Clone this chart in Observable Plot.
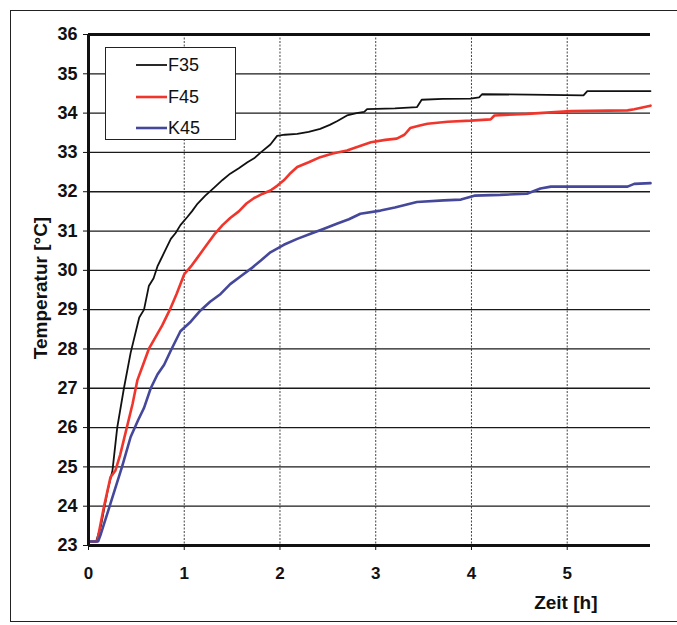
<!DOCTYPE html>
<html>
<head>
<meta charset="utf-8">
<script src="https://cdn.jsdelivr.net/npm/d3@7"></script>
<script src="https://cdn.jsdelivr.net/npm/@observablehq/plot@0.6"></script>
<style>
  html, body { margin: 0; padding: 0; background: #fff; }
  #wrap { position: relative; width: 677px; height: 625px; overflow: hidden; font-family: "Liberation Sans", Arial, sans-serif; }
  #frame { position: absolute; left: 10px; top: 10px; width: 700px; height: 612px; border-left: 1.5px solid #222; border-top: 1.5px solid #222; border-bottom: 1.5px solid #222; box-sizing: border-box; }
  #chart { position: absolute; left: 0; top: 0; }
  #legend { position: absolute; left: 105px; top: 47px; width: 131px; height: 93px; border: 1.5px solid #222; background: #fff; box-sizing: border-box; }
</style>
</head>
<body>
<div id="wrap">
  <div id="frame"></div>
  <div id="chart"></div>
  <div id="legend"></div>
</div>
<script>
// ---- data ----
const seriesNames = ["F35", "F45", "K45"];
const seriesColors = ["#111111", "#f0362c", "#45489a"];
const seriesWidths = [1.8, 2.6, 2.6];

const f35Time = [0, 0.08, 0.13, 0.2, 0.25, 0.30, 0.37, 0.44, 0.50, 0.53, 0.58, 0.63, 0.68, 0.72, 0.75, 0.80, 0.86, 0.91, 0.96, 1.03, 1.08, 1.14, 1.22, 1.31, 1.40, 1.48, 1.57, 1.66, 1.73, 1.80, 1.90, 1.97, 2.05, 2.18, 2.30, 2.42, 2.52, 2.60, 2.70, 2.80, 2.88, 2.91, 3.20, 3.43, 3.48, 3.70, 3.99, 4.08, 4.11, 4.60, 5.17, 5.21, 5.50, 5.87];
const f35Temp = [23.1, 23.1, 23.5, 24.4, 24.9, 26.0, 27.0, 27.9, 28.5, 28.8, 29.0, 29.6, 29.8, 30.1, 30.25, 30.5, 30.8, 30.95, 31.15, 31.35, 31.5, 31.7, 31.9, 32.1, 32.3, 32.46, 32.6, 32.75, 32.85, 33.0, 33.2, 33.42, 33.45, 33.47, 33.52, 33.6, 33.7, 33.8, 33.94, 34.0, 34.03, 34.1, 34.12, 34.15, 34.34, 34.36, 34.37, 34.4, 34.48, 34.47, 34.45, 34.56, 34.56, 34.56];

const f45Time = [0, 0.09, 0.16, 0.23, 0.28, 0.33, 0.40, 0.46, 0.51, 0.57, 0.63, 0.70, 0.77, 0.85, 0.92, 1.0, 1.07, 1.14, 1.22, 1.31, 1.40, 1.48, 1.57, 1.65, 1.73, 1.82, 1.90, 1.97, 2.04, 2.10, 2.18, 2.30, 2.42, 2.55, 2.70, 2.82, 2.95, 3.10, 3.22, 3.30, 3.36, 3.45, 3.54, 3.75, 3.99, 4.20, 4.24, 4.58, 5.04, 5.63, 5.70, 5.87];
const f45Temp = [23.1, 23.1, 23.97, 24.74, 24.9, 25.3, 26.0, 26.6, 27.2, 27.6, 28.0, 28.3, 28.6, 29.0, 29.4, 29.9, 30.1, 30.33, 30.6, 30.9, 31.15, 31.33, 31.5, 31.7, 31.84, 31.95, 32.03, 32.15, 32.29, 32.45, 32.63, 32.75, 32.88, 32.97, 33.05, 33.15, 33.26, 33.32, 33.35, 33.45, 33.62, 33.68, 33.73, 33.78, 33.81, 33.84, 33.94, 33.98, 34.05, 34.07, 34.1, 34.19];

const k45Time = [0, 0.10, 0.13, 0.23, 0.35, 0.44, 0.52, 0.58, 0.65, 0.72, 0.79, 0.86, 0.96, 1.07, 1.17, 1.27, 1.38, 1.48, 1.59, 1.70, 1.80, 1.90, 2.04, 2.18, 2.32, 2.46, 2.60, 2.72, 2.84, 3.05, 3.20, 3.43, 3.71, 3.89, 4.03, 4.30, 4.58, 4.72, 4.83, 5.20, 5.63, 5.70, 5.87];
const k45Temp = [23.1, 23.1, 23.3, 24.07, 25.0, 25.76, 26.2, 26.5, 27.0, 27.35, 27.6, 27.96, 28.45, 28.7, 28.98, 29.2, 29.4, 29.65, 29.85, 30.05, 30.25, 30.46, 30.65, 30.8, 30.93, 31.06, 31.19, 31.3, 31.44, 31.52, 31.6, 31.74, 31.78, 31.8, 31.9, 31.92, 31.95, 32.08, 32.13, 32.13, 32.13, 32.2, 32.22];

const xTicks = [0, 1, 2, 3, 4, 5];
const yTicks = [23, 24, 25, 26, 27, 28, 29, 30, 31, 32, 33, 34, 35, 36];
const xDomain = [0, 5.87];
const yDomain = [23, 36];
const xLabel = "Zeit [h]";
const yLabel = "Temperatur [°C]";

// ---- build table ----
const times = [f35Time, f45Time, k45Time];
const temps = [f35Temp, f45Temp, k45Temp];
const rows = [];
seriesNames.forEach((name, i) => {
  times[i].forEach((t, j) => rows.push({series: name, time: t, temp: temps[i][j]}));
});

const font = '"Liberation Sans", Arial, sans-serif';

const lineMarks = seriesNames.map((name, i) =>
  Plot.line(rows.filter(r => r.series === name), {
    x: "time", y: "temp", stroke: seriesColors[i], strokeWidth: seriesWidths[i],
    strokeLinejoin: "miter"
  })
);

const chart = Plot.plot({
  width: 677,
  height: 625,
  marginLeft: 88,
  marginRight: 27,
  marginTop: 34,
  marginBottom: 80,
  style: { fontFamily: font, fontSize: "17px", color: "#111", background: "transparent", overflow: "visible" },
  x: { domain: xDomain },
  y: { domain: yDomain },
  marks: [
    Plot.gridX(xTicks.slice(1), { stroke: "#444", strokeOpacity: 1, strokeWidth: 1, strokeDasharray: "2,1.5" }),
    Plot.gridY(yTicks, { stroke: "#1a1a1a", strokeOpacity: 1, strokeWidth: 1.3 }),
    Plot.ruleY([yDomain[1]], { stroke: "#111", strokeWidth: 3 }),
    ...lineMarks,
    Plot.ruleX([xDomain[0]], { stroke: "#111", strokeWidth: 3 }),
    Plot.ruleY([yDomain[0]], { stroke: "#111", strokeWidth: 3 }),
    Plot.axisX({ ticks: xTicks, tickFormat: d => String(d), tickSize: 5, tickPadding: 16, label: null, fontSize: 17, fontWeight: "bold", stroke: "#111" }),
    Plot.axisY({ ticks: yTicks, tickFormat: d => String(d), tickSize: 5, tickPadding: 6, label: null, fontSize: 18, fontWeight: "bold", stroke: "#111" }),
    Plot.text([xLabel], { frameAnchor: "bottom-right", textAnchor: "end", dx: -53, dy: 63, fontSize: 19, fontWeight: "bold", fill: "#111" }),
    Plot.text([yLabel], { frameAnchor: "left", textAnchor: "middle", rotate: -90, dx: -48, dy: -2, fontSize: 19, fontWeight: "bold", fill: "#111" })
  ]
});
document.getElementById("chart").appendChild(chart);

// ---- legend ----
const lg = d3.select("#legend").append("svg").attr("width", 131).attr("height", 93)
  .style("position", "absolute").style("left", "-1.5px").style("top", "-1.5px").style("overflow", "visible");
const rowY = [18, 50, 81];
seriesNames.forEach((name, i) => {
  lg.append("line").attr("x1", 31).attr("x2", 62).attr("y1", rowY[i]).attr("y2", rowY[i])
    .attr("stroke", seriesColors[i]).attr("stroke-width", seriesWidths[i]);
  lg.append("text").attr("x", 63).attr("y", rowY[i]).attr("dy", "0.36em")
    .attr("font-family", font).attr("font-size", 18).attr("fill", "#111").text(name);
});
</script>
</body>
</html>
